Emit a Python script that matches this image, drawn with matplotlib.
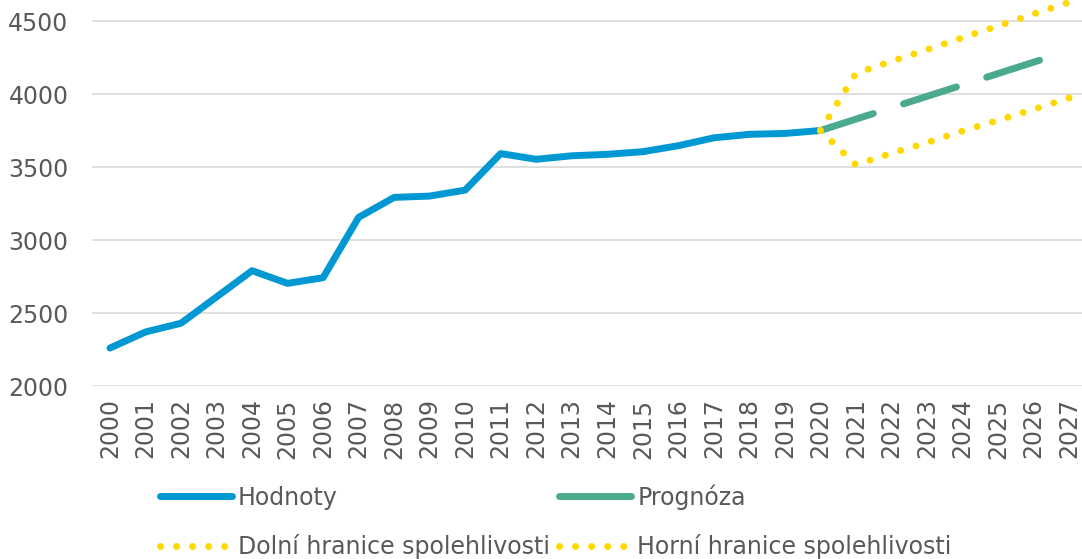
import matplotlib.pyplot as plt
from matplotlib.lines import Line2D

years = [str(y) for y in range(2000, 2028)]

hodnoty = [2260, 2370, 2430, 2610, 2790, 2703, 2742, 3155, 3292, 3301, 3342,
           3592, 3553, 3577, 3587, 3605, 3646, 3700, 3724, 3730, 3750]
prognoza = [3750, 3828, 3906, 3984, 4062, 4140, 4218, 4296]
dolni = [3750, 3515, 3594, 3667, 3747, 3820, 3895, 3973]
horni = [3750, 4141, 4224, 4304, 4386, 4466, 4548, 4628]

blue = '#0098D3'
green = '#4BAA8E'
yellow = '#FFD800'
text_col = '#595959'

plt.rcParams['font.family'] = ['DejaVu Sans']

fig = plt.figure(figsize=(10.82, 5.59), dpi=100)
ax = fig.add_axes([92.2 / 1082, 173 / 559, 994.6 / 1082, 385.4 / 559])

x_hist = list(range(len(hodnoty)))
x_fore = list(range(20, 20 + len(prognoza)))

ax.plot(x_hist, hodnoty, color=blue, lw=5, solid_capstyle='round',
        solid_joinstyle='round', label='Hodnoty', zorder=3)
ax.plot(x_fore, prognoza, color=green, lw=5, linestyle=(0, (8.0, 4.57)),
        dash_capstyle='round', label='Prognóza', zorder=3)
dot_style = (0, (0.01, 2.3))
ax.plot(x_fore, dolni, color=yellow, lw=5, linestyle=dot_style,
        dash_capstyle='round', label='Dolní hranice spolehlivosti', zorder=4, clip_on=False)
ax.plot(x_fore, horni, color=yellow, lw=5, linestyle=dot_style,
        dash_capstyle='round', label='Horní hranice spolehlivosti', zorder=4, clip_on=False)

ax.set_xlim(-0.5, 27.5)
ax.set_ylim(2000, 4640)
ax.set_yticks([2000, 2500, 3000, 3500, 4000, 4500])
ax.set_xticks(range(len(years)))
ax.set_xticklabels(years, rotation=90)
ax.grid(axis='y', color='#D9D9D9', lw=1.2)
ax.set_axisbelow(True)
for s in ax.spines.values():
    s.set_visible(False)
ax.tick_params(axis='y', length=0, pad=17, labelsize=17, labelcolor=text_col)
ax.tick_params(axis='x', length=0, pad=9, labelsize=17, labelcolor=text_col)

h = [Line2D([], [], color=blue, lw=5, solid_capstyle='round'),
     Line2D([], [], color=yellow, lw=5, linestyle=dot_style, dash_capstyle='round'),
     Line2D([], [], color=green, lw=5, solid_capstyle='round'),
     Line2D([], [], color=yellow, lw=5, linestyle=dot_style, dash_capstyle='round')]
labels = ['Hodnoty', 'Dolní hranice spolehlivosti', 'Prognóza', 'Horní hranice spolehlivosti']
leg = fig.legend(h, labels, ncol=2, loc='upper left',
                 bbox_to_anchor=(160 / 1082, 1 - 484 / 559),
                 frameon=False, fontsize=17, handlelength=3.05, handletextpad=0.25,
                 columnspacing=0.4, labelspacing=1.05, borderpad=0, borderaxespad=0)
for t in leg.get_texts():
    t.set_color(text_col)

fig.savefig('out.png', dpi=100)
